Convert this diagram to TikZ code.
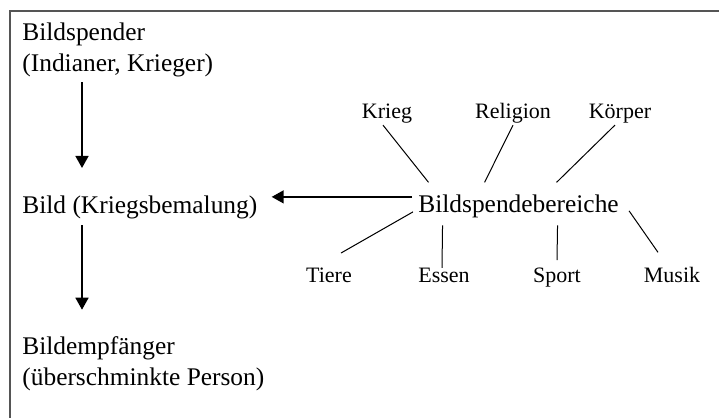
\documentclass[tikz,border=0pt]{standalone}
\usepackage{fontspec}
\setmainfont{Liberation Serif}
\usetikzlibrary{arrows.meta,calc}
\definecolor{FrameGrey}{HTML}{555555}
\definecolor{InkBlack}{HTML}{000000}
\tikzset{
    % Text blocks on the left and the hub
    term/.style={
        inner sep=0pt,
        text=InkBlack,
        align=left,
        font=\fontsize{12.7}{15.5}\selectfont
    },
    % Small field labels round the hub
    field/.style={
        inner sep=0pt,
        text=InkBlack,
        font=\fontsize{11}{13}\selectfont
    },
    arrow/.style={
        -{Triangle[length=6pt,width=6.5pt]},
        line width=0.75pt,
        color=InkBlack
    },
    spoke/.style={
        line width=0.5pt,
        color=InkBlack
    },
    frame/.style={
        line width=1pt,
        color=FrameGrey
    }
}

\begin{document}
\begin{tikzpicture}[x=0.5pt, y=-0.5pt]
        \useasboundingbox (0,0) rectangle (719,418);
        % Frame (top and left edges)
        \draw[frame] (9.5,418) -- (9.5,11) -- (719,11);

        % Left column
        \node[term, anchor=north west] (spender) at (22,22.7)
              {Bildspender\\(Indianer, Krieger)};
        \node[term, anchor=base west] (bild) at (22,213)
              {Bild (Kriegsbemalung)};
        \node[term, anchor=north west] (empfaenger) at (22,336.7)
              {Bildempfänger\\(überschminkte Person)};

        % Hub
        \node[term, anchor=base west] (bereiche) at (418,212)
              {Bildspendebereiche};

        % Fields
        \node[field, anchor=base] (krieg) at (387,118) {Krieg};
        \node[field, anchor=base] (religion) at (513,118) {Religion};
        \node[field, anchor=base] (koerper) at (620,118) {Körper};
        \node[field, anchor=base] (tiere) at (329,282) {Tiere};
        \node[field, anchor=base] (essen) at (444,282) {Essen};
        \node[field, anchor=base] (sport) at (557,282) {Sport};
        \node[field, anchor=base] (musik) at (672,282) {Musik};

        % Arrows
        \draw[arrow, shorten <=2.3pt, shorten >=13.5pt]
              ([xshift=30pt]spender.south west) -- ([xshift=30pt]bild.north west);
        \draw[arrow, shorten <=3.3pt, shorten >=13.5pt]
              ([xshift=30pt]bild.south west) -- ([xshift=30pt]empfaenger.north west);
        \draw[arrow, shorten <=3pt, shorten >=7pt]
              ([yshift=4.5pt]bereiche.west) -- ([yshift=4.5pt]bereiche.west -| bild.east);

        % Spokes
        \draw[spoke] ([shift={(-4,2)}]krieg.south) -- ([shift={(-90,-11.6)}]bereiche.north);
        \draw[spoke] ([shift={(0,2)}]religion.south) -- ([shift={(-34,-11.6)}]bereiche.north);
        \draw[spoke] ([shift={(-5,2)}]koerper.south) -- ([shift={(38,-11.6)}]bereiche.north);
        \draw[spoke] ([shift={(-5,6)}]bereiche.west) -- ([shift={(12,-14)}]tiere.north);
        \draw[spoke] ([shift={(-76,7.5)}]bereiche.south) -- ([shift={(-2,0.6)}]essen.north);
        \draw[spoke] ([shift={(39,7.5)}]bereiche.south) -- ([shift={(0,-7)}]sport.north);
        \draw[spoke] ([shift={(10,5)}]bereiche.east) -- ([shift={(-14,-14)}]musik.north);
\end{tikzpicture}
\end{document}
